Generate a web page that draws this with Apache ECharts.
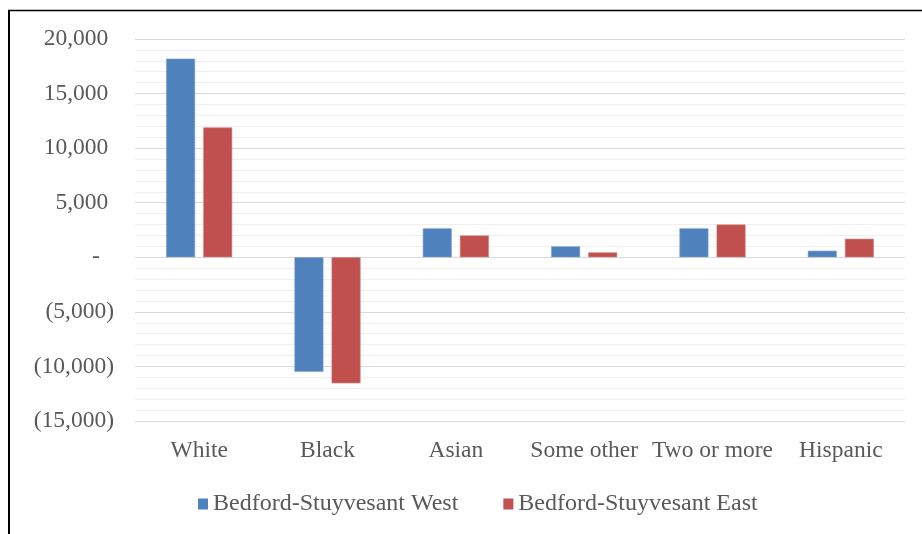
<!DOCTYPE html>
<html>
<head>
<meta charset="utf-8">
<script src="https://cdn.jsdelivr.net/npm/echarts@6/dist/echarts.min.js"></script>
<style>
  html, body { margin: 0; padding: 0; background: #fff; }
  #chart { width: 922px; height: 534px; }
</style>
</head>
<body>
<div id="chart"></div>
<script>
// Population change by race / ethnicity
const categories = ['White', 'Black', 'Asian', 'Some other', 'Two or more', 'Hispanic'];
const westName = 'Bedford-Stuyvesant West';
const eastName = 'Bedford-Stuyvesant East';
const westValues = [18200, -10500, 2650, 1000, 2650, 600];
const eastValues = [11900, -11550, 2000, 450, 3000, 1700];
const yTicks = { min: -15000, max: 20000, interval: 5000 };

const FONT = '"Liberation Serif", "Times New Roman", serif';
const TEXT = '#595959';

// Accounting style: negatives in parentheses, zero as a dash,
// positives padded by an invisible ")" so the digits line up.
function accounting(v) {
  const s = Math.abs(v).toLocaleString('en-US');
  if (v > 0) return '{v|' + s + '}{h|)}';
  if (v < 0) return '{v|(' + s + ')}';
  return '{v|-}{h|0)}';
}

const chart = echarts.init(document.getElementById('chart'));
chart.setOption({
  animation: false,
  backgroundColor: '#ffffff',
  graphic: [
    { type: 'line', shape: { x1: 8, y1: 10.5, x2: 922, y2: 10.5 }, style: { stroke: '#000', lineWidth: 1.5 } },
    { type: 'line', shape: { x1: 9, y1: 10, x2: 9, y2: 534 }, style: { stroke: '#000', lineWidth: 2 } }
  ],
  grid: { left: 135, right: 17, top: 39, bottom: 113 },
  legend: {
    left: 193,
    top: 487,
    itemWidth: 10,
    itemHeight: 11,
    itemGap: 45,
    icon: 'rect',
    itemStyle: { borderWidth: 0 },
    textStyle: { fontFamily: FONT, fontSize: 24, color: TEXT, padding: [0, 0, 0, 0] },
    data: [westName, eastName]
  },
  xAxis: {
    type: 'category',
    data: categories,
    axisLine: { show: true, lineStyle: { color: '#d9d9d9', width: 1 } },
    axisTick: { show: false },
    axisLabel: { fontFamily: FONT, fontSize: 23.5, color: TEXT, margin: 18, interval: 0 }
  },
  yAxis: {
    type: 'value',
    min: yTicks.min,
    max: yTicks.max,
    interval: yTicks.interval,
    axisLine: { show: false },
    axisTick: { show: false },
    splitLine: { show: true, lineStyle: { color: '#d9d9d9', width: 1 } },
    minorTick: { show: false, splitNumber: 5 },
    minorSplitLine: { show: true, lineStyle: { color: '#efefef', width: 1 } },
    axisLabel: {
      margin: 21,
      formatter: accounting,
      rich: {
        v: { fontFamily: FONT, fontSize: 23.5, color: TEXT },
        h: { fontFamily: FONT, fontSize: 17, color: 'rgba(0,0,0,0)' }
      }
    }
  },
  series: [
    {
      name: westName,
      type: 'bar',
      data: westValues,
      barWidth: 29,
      barGap: '28%',
      itemStyle: { color: '#4f81bd', borderColor: '#7fa3d2', borderWidth: 0.6 }
    },
    {
      name: eastName,
      type: 'bar',
      data: eastValues,
      barWidth: 29,
      itemStyle: { color: '#c0504d', borderColor: '#d58583', borderWidth: 0.6 }
    }
  ]
});
</script>
</body>
</html>
